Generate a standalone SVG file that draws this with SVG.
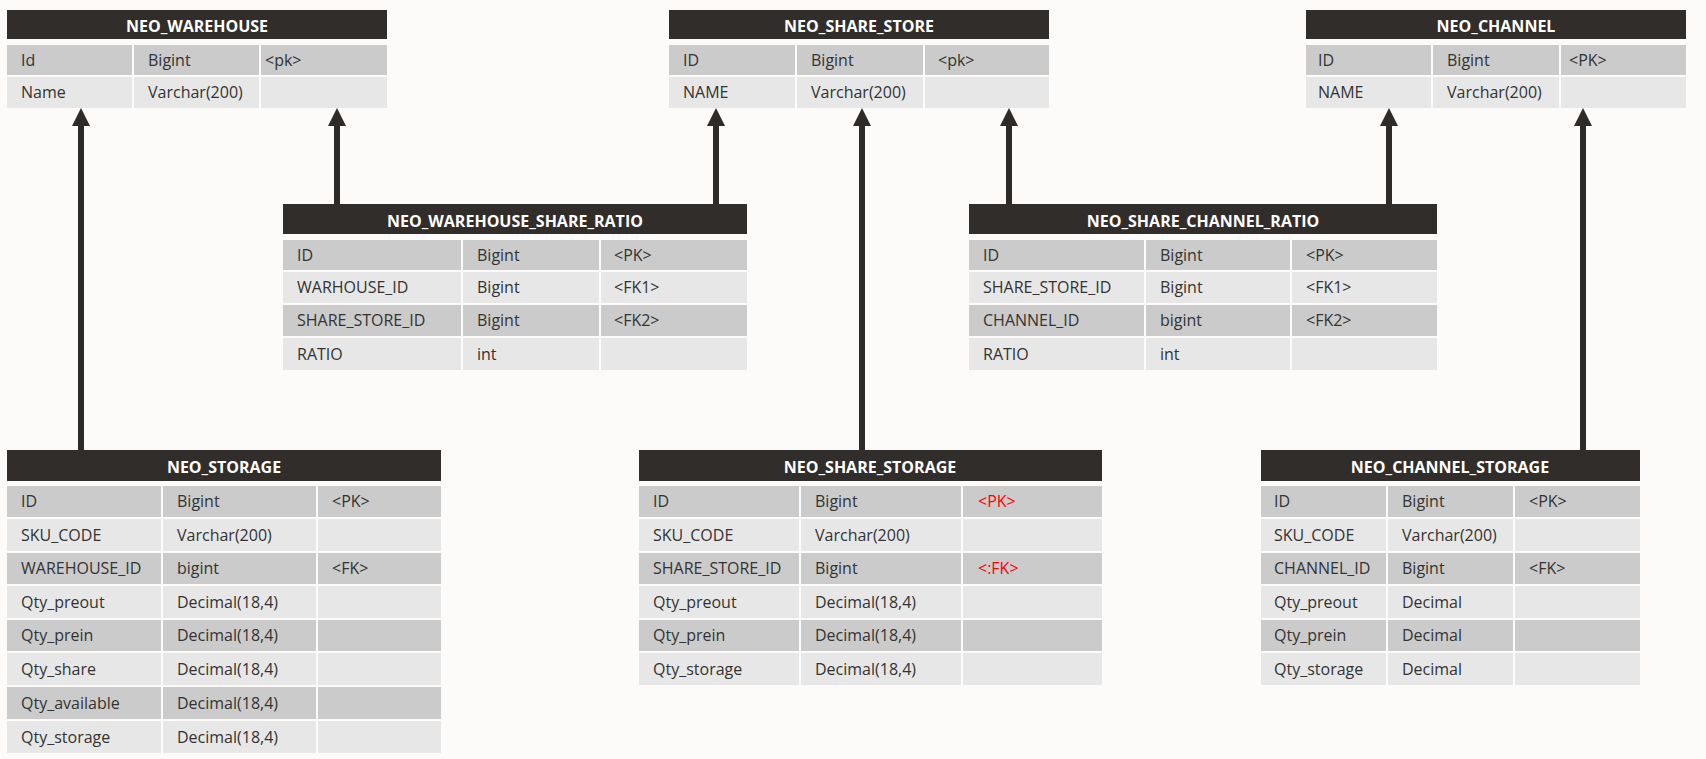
<svg xmlns="http://www.w3.org/2000/svg" width="1706" height="759" viewBox="0 0 1706 759">
<defs>
<marker id="ah" markerUnits="userSpaceOnUse" markerWidth="18" markerHeight="18" viewBox="0 0 18 18" refX="0" refY="9" orient="auto">
<path d="M0,0 L18,9 L0,18 z" fill="#2f2b28"/>
</marker>
<style>
.hd{fill:#312d2a}
.ht{font-family:"Open Sans","Noto Sans",sans-serif;font-size:16px;font-weight:bold;fill:#ffffff;text-anchor:middle}
.d{fill:#cbcbcb}
.l{fill:#e7e7e7}
.t{font-family:"Open Sans","Noto Sans",sans-serif;font-size:16px;fill:#333333}
.r{fill:#ff0000}
.c{stroke:#2f2b28;stroke-width:6;fill:none;marker-end:url(#ah)}
</style>
</defs>
<rect width="1706" height="759" fill="#fcfbfa"/>

<g id="NEO_WAREHOUSE">
<rect class="hd" x="7" y="10" width="380" height="29"/>
<text class="ht" x="197" y="32">NEO_WAREHOUSE</text>
<rect class="d" x="7" y="45" width="125" height="30"/><rect class="d" x="134" y="45" width="125" height="30"/><rect class="d" x="261" y="45" width="126" height="30"/>
<text class="t" x="21" y="66">Id</text><text class="t" x="148" y="66">Bigint</text><text class="t" x="265" y="66">&lt;pk&gt;</text>
<rect class="l" x="7" y="77" width="125" height="31"/><rect class="l" x="134" y="77" width="125" height="31"/><rect class="l" x="261" y="77" width="126" height="31"/>
<text class="t" x="21" y="98">Name</text><text class="t" x="148" y="98">Varchar(200)</text>
</g>

<g id="NEO_SHARE_STORE">
<rect class="hd" x="669" y="10" width="380" height="29"/>
<text class="ht" x="859" y="32">NEO_SHARE_STORE</text>
<rect class="d" x="669" y="45" width="126" height="30"/><rect class="d" x="797" y="45" width="126" height="30"/><rect class="d" x="925" y="45" width="124" height="30"/>
<text class="t" x="683" y="66">ID</text><text class="t" x="811" y="66">Bigint</text><text class="t" x="938" y="66">&lt;pk&gt;</text>
<rect class="l" x="669" y="77" width="126" height="31"/><rect class="l" x="797" y="77" width="126" height="31"/><rect class="l" x="925" y="77" width="124" height="31"/>
<text class="t" x="683" y="98">NAME</text><text class="t" x="811" y="98">Varchar(200)</text>
</g>

<g id="NEO_CHANNEL">
<rect class="hd" x="1306" y="10" width="380" height="29"/>
<text class="ht" x="1496" y="32">NEO_CHANNEL</text>
<rect class="d" x="1306" y="45" width="125" height="30"/><rect class="d" x="1433" y="45" width="126" height="30"/><rect class="d" x="1561" y="45" width="125" height="30"/>
<text class="t" x="1318" y="66">ID</text><text class="t" x="1447" y="66">Bigint</text><text class="t" x="1569" y="66">&lt;PK&gt;</text>
<rect class="l" x="1306" y="77" width="125" height="31"/><rect class="l" x="1433" y="77" width="126" height="31"/><rect class="l" x="1561" y="77" width="125" height="31"/>
<text class="t" x="1318" y="98">NAME</text><text class="t" x="1447" y="98">Varchar(200)</text>
</g>

<g id="NEO_WAREHOUSE_SHARE_RATIO">
<rect class="hd" x="283" y="204" width="464" height="30"/>
<text class="ht" x="515" y="227">NEO_WAREHOUSE_SHARE_RATIO</text>
<rect class="d" x="283" y="240" width="178" height="30"/><rect class="d" x="463" y="240" width="136" height="30"/><rect class="d" x="601" y="240" width="146" height="30"/>
<text class="t" x="297" y="261">ID</text><text class="t" x="477" y="261">Bigint</text><text class="t" x="614" y="261">&lt;PK&gt;</text>
<rect class="l" x="283" y="272" width="178" height="31"/><rect class="l" x="463" y="272" width="136" height="31"/><rect class="l" x="601" y="272" width="146" height="31"/>
<text class="t" x="297" y="293">WARHOUSE_ID</text><text class="t" x="477" y="293">Bigint</text><text class="t" x="614" y="293">&lt;FK1&gt;</text>
<rect class="d" x="283" y="305" width="178" height="31"/><rect class="d" x="463" y="305" width="136" height="31"/><rect class="d" x="601" y="305" width="146" height="31"/>
<text class="t" x="297" y="326">SHARE_STORE_ID</text><text class="t" x="477" y="326">Bigint</text><text class="t" x="614" y="326">&lt;FK2&gt;</text>
<rect class="l" x="283" y="338" width="178" height="32"/><rect class="l" x="463" y="338" width="136" height="32"/><rect class="l" x="601" y="338" width="146" height="32"/>
<text class="t" x="297" y="360">RATIO</text><text class="t" x="477" y="360">int</text>
</g>

<g id="NEO_SHARE_CHANNEL_RATIO">
<rect class="hd" x="969" y="204" width="468" height="30"/>
<text class="ht" x="1203" y="227">NEO_SHARE_CHANNEL_RATIO</text>
<rect class="d" x="969" y="240" width="175" height="30"/><rect class="d" x="1146" y="240" width="144" height="30"/><rect class="d" x="1292" y="240" width="145" height="30"/>
<text class="t" x="983" y="261">ID</text><text class="t" x="1160" y="261">Bigint</text><text class="t" x="1306" y="261">&lt;PK&gt;</text>
<rect class="l" x="969" y="272" width="175" height="31"/><rect class="l" x="1146" y="272" width="144" height="31"/><rect class="l" x="1292" y="272" width="145" height="31"/>
<text class="t" x="983" y="293">SHARE_STORE_ID</text><text class="t" x="1160" y="293">Bigint</text><text class="t" x="1306" y="293">&lt;FK1&gt;</text>
<rect class="d" x="969" y="305" width="175" height="31"/><rect class="d" x="1146" y="305" width="144" height="31"/><rect class="d" x="1292" y="305" width="145" height="31"/>
<text class="t" x="983" y="326">CHANNEL_ID</text><text class="t" x="1160" y="326">bigint</text><text class="t" x="1306" y="326">&lt;FK2&gt;</text>
<rect class="l" x="969" y="338" width="175" height="32"/><rect class="l" x="1146" y="338" width="144" height="32"/><rect class="l" x="1292" y="338" width="145" height="32"/>
<text class="t" x="983" y="360">RATIO</text><text class="t" x="1160" y="360">int</text>
</g>

<g id="NEO_STORAGE">
<rect class="hd" x="7" y="450" width="434" height="31"/>
<text class="ht" x="224" y="473">NEO_STORAGE</text>
<rect class="d" x="7" y="486" width="154" height="31"/><rect class="d" x="163" y="486" width="153" height="31"/><rect class="d" x="318" y="486" width="123" height="31"/>
<text class="t" x="21" y="507">ID</text><text class="t" x="177" y="507">Bigint</text><text class="t" x="332" y="507">&lt;PK&gt;</text>
<rect class="l" x="7" y="519" width="154" height="32"/><rect class="l" x="163" y="519" width="153" height="32"/><rect class="l" x="318" y="519" width="123" height="32"/>
<text class="t" x="21" y="541">SKU_CODE</text><text class="t" x="177" y="541">Varchar(200)</text>
<rect class="d" x="7" y="553" width="154" height="31"/><rect class="d" x="163" y="553" width="153" height="31"/><rect class="d" x="318" y="553" width="123" height="31"/>
<text class="t" x="21" y="574">WAREHOUSE_ID</text><text class="t" x="177" y="574">bigint</text><text class="t" x="332" y="574">&lt;FK&gt;</text>
<rect class="l" x="7" y="586" width="154" height="32"/><rect class="l" x="163" y="586" width="153" height="32"/><rect class="l" x="318" y="586" width="123" height="32"/>
<text class="t" x="21" y="608">Qty_preout</text><text class="t" x="177" y="608">Decimal(18,4)</text>
<rect class="d" x="7" y="620" width="154" height="31"/><rect class="d" x="163" y="620" width="153" height="31"/><rect class="d" x="318" y="620" width="123" height="31"/>
<text class="t" x="21" y="641">Qty_prein</text><text class="t" x="177" y="641">Decimal(18,4)</text>
<rect class="l" x="7" y="653" width="154" height="32"/><rect class="l" x="163" y="653" width="153" height="32"/><rect class="l" x="318" y="653" width="123" height="32"/>
<text class="t" x="21" y="675">Qty_share</text><text class="t" x="177" y="675">Decimal(18,4)</text>
<rect class="d" x="7" y="687" width="154" height="32"/><rect class="d" x="163" y="687" width="153" height="32"/><rect class="d" x="318" y="687" width="123" height="32"/>
<text class="t" x="21" y="709">Qty_available</text><text class="t" x="177" y="709">Decimal(18,4)</text>
<rect class="l" x="7" y="721" width="154" height="32"/><rect class="l" x="163" y="721" width="153" height="32"/><rect class="l" x="318" y="721" width="123" height="32"/>
<text class="t" x="21" y="743">Qty_storage</text><text class="t" x="177" y="743">Decimal(18,4)</text>
</g>

<g id="NEO_SHARE_STORAGE">
<rect class="hd" x="639" y="450" width="463" height="31"/>
<text class="ht" x="870" y="473">NEO_SHARE_STORAGE</text>
<rect class="d" x="639" y="486" width="160" height="31"/><rect class="d" x="801" y="486" width="160" height="31"/><rect class="d" x="963" y="486" width="139" height="31"/>
<text class="t" x="653" y="507">ID</text><text class="t" x="815" y="507">Bigint</text><text class="t r" x="978" y="507">&lt;PK&gt;</text>
<rect class="l" x="639" y="519" width="160" height="32"/><rect class="l" x="801" y="519" width="160" height="32"/><rect class="l" x="963" y="519" width="139" height="32"/>
<text class="t" x="653" y="541">SKU_CODE</text><text class="t" x="815" y="541">Varchar(200)</text>
<rect class="d" x="639" y="553" width="160" height="31"/><rect class="d" x="801" y="553" width="160" height="31"/><rect class="d" x="963" y="553" width="139" height="31"/>
<text class="t" x="653" y="574">SHARE_STORE_ID</text><text class="t" x="815" y="574">Bigint</text><text class="t r" x="978" y="574">&lt;:FK&gt;</text>
<rect class="l" x="639" y="586" width="160" height="32"/><rect class="l" x="801" y="586" width="160" height="32"/><rect class="l" x="963" y="586" width="139" height="32"/>
<text class="t" x="653" y="608">Qty_preout</text><text class="t" x="815" y="608">Decimal(18,4)</text>
<rect class="d" x="639" y="620" width="160" height="31"/><rect class="d" x="801" y="620" width="160" height="31"/><rect class="d" x="963" y="620" width="139" height="31"/>
<text class="t" x="653" y="641">Qty_prein</text><text class="t" x="815" y="641">Decimal(18,4)</text>
<rect class="l" x="639" y="653" width="160" height="32"/><rect class="l" x="801" y="653" width="160" height="32"/><rect class="l" x="963" y="653" width="139" height="32"/>
<text class="t" x="653" y="675">Qty_storage</text><text class="t" x="815" y="675">Decimal(18,4)</text>
</g>

<g id="NEO_CHANNEL_STORAGE">
<rect class="hd" x="1261" y="450" width="379" height="31"/>
<text class="ht" x="1450" y="473">NEO_CHANNEL_STORAGE</text>
<rect class="d" x="1261" y="486" width="125" height="31"/><rect class="d" x="1388" y="486" width="125" height="31"/><rect class="d" x="1515" y="486" width="125" height="31"/>
<text class="t" x="1274" y="507">ID</text><text class="t" x="1402" y="507">Bigint</text><text class="t" x="1529" y="507">&lt;PK&gt;</text>
<rect class="l" x="1261" y="519" width="125" height="32"/><rect class="l" x="1388" y="519" width="125" height="32"/><rect class="l" x="1515" y="519" width="125" height="32"/>
<text class="t" x="1274" y="541">SKU_CODE</text><text class="t" x="1402" y="541">Varchar(200)</text>
<rect class="d" x="1261" y="553" width="125" height="31"/><rect class="d" x="1388" y="553" width="125" height="31"/><rect class="d" x="1515" y="553" width="125" height="31"/>
<text class="t" x="1274" y="574">CHANNEL_ID</text><text class="t" x="1402" y="574">Bigint</text><text class="t" x="1529" y="574">&lt;FK&gt;</text>
<rect class="l" x="1261" y="586" width="125" height="32"/><rect class="l" x="1388" y="586" width="125" height="32"/><rect class="l" x="1515" y="586" width="125" height="32"/>
<text class="t" x="1274" y="608">Qty_preout</text><text class="t" x="1402" y="608">Decimal</text>
<rect class="d" x="1261" y="620" width="125" height="31"/><rect class="d" x="1388" y="620" width="125" height="31"/><rect class="d" x="1515" y="620" width="125" height="31"/>
<text class="t" x="1274" y="641">Qty_prein</text><text class="t" x="1402" y="641">Decimal</text>
<rect class="l" x="1261" y="653" width="125" height="32"/><rect class="l" x="1388" y="653" width="125" height="32"/><rect class="l" x="1515" y="653" width="125" height="32"/>
<text class="t" x="1274" y="675">Qty_storage</text><text class="t" x="1402" y="675">Decimal</text>
</g>

<g id="connectors">
<path class="c" d="M81,450 V126"/>
<path class="c" d="M337,204 V126"/>
<path class="c" d="M716,204 V126"/>
<path class="c" d="M862,450 V126"/>
<path class="c" d="M1009,204 V126"/>
<path class="c" d="M1389,204 V126"/>
<path class="c" d="M1583,450 V126"/>
</g>
</svg>
